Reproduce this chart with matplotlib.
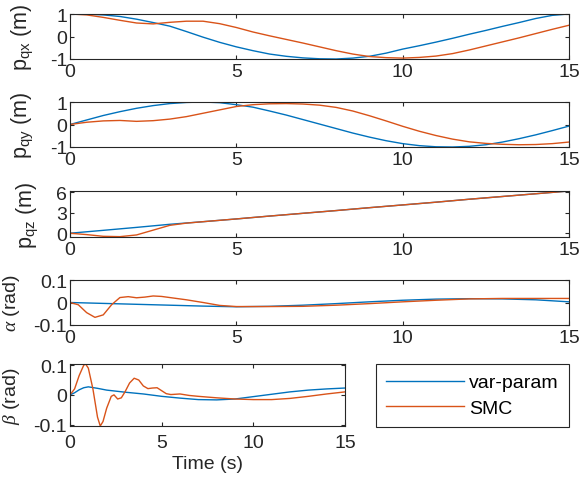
import matplotlib
matplotlib.use("Agg")
import matplotlib.pyplot as plt
from matplotlib.ticker import FuncFormatter

plt.rcParams['font.family'] = ['Liberation Sans', 'DejaVu Sans']
plt.rcParams['mathtext.fontset'] = 'custom'
plt.rcParams['mathtext.rm'] = 'Liberation Sans'
plt.rcParams['mathtext.it'] = 'Liberation Serif:italic'
plt.rcParams['mathtext.default'] = 'it'
plt.rcParams['axes.unicode_minus'] = False

BLUE = '#0072BD'
RED = '#D95319'
DARK = '#262626'

# ---------------- data ----------------
t_half = [0, 0.5, 1, 1.5, 2, 2.5, 3, 3.5, 4, 4.5, 5, 5.5, 6, 6.5, 7, 7.5,
          8, 8.5, 9, 9.5, 10, 10.5, 11, 11.5, 12, 12.5, 13, 13.5, 14, 14.5, 15]

pqx_vp = [1.0, 0.99, 0.96, 0.89, 0.77, 0.62, 0.46, 0.22, -0.03, -0.26, -0.46,
          -0.63, -0.78, -0.88, -0.95, -0.99, -1.0, -0.96, -0.88, -0.74, -0.56,
          -0.41, -0.25, -0.08, 0.1, 0.27, 0.45, 0.62, 0.8, 0.94, 1.0]
pqx_smc = [1.0, 0.96, 0.85, 0.72, 0.6, 0.56, 0.63, 0.68, 0.68, 0.57, 0.4,
           0.2, 0.03, -0.13, -0.29, -0.46, -0.63, -0.78, -0.89, -0.94, -0.96,
           -0.93, -0.87, -0.76, -0.6, -0.42, -0.24, -0.06, 0.13, 0.32, 0.5]

pqy_vp = [0.0, 0.2, 0.4, 0.57, 0.72, 0.84, 0.93, 0.98, 1.0, 0.97, 0.88,
          0.77, 0.6, 0.42, 0.22, 0.02, -0.18, -0.38, -0.56, -0.72, -0.85,
          -0.94, -0.99, -1.0, -0.97, -0.9, -0.78, -0.63, -0.46, -0.27, -0.07]
pqy_smc = [0.0, 0.1, 0.16, 0.18, 0.14, 0.17, 0.24, 0.35, 0.5, 0.65, 0.8,
           0.88, 0.92, 0.93, 0.91, 0.86, 0.76, 0.6, 0.39, 0.16, -0.08,
           -0.3, -0.49, -0.65, -0.77, -0.84, -0.88, -0.9, -0.89, -0.85, -0.78]

t_z_vp = [0, 1, 2, 3, 4, 5, 6, 7, 8, 9, 10, 11, 12, 13, 14, 15]
pqz_vp = [0.0, 0.42, 0.85, 1.3, 1.68, 2.08, 2.5, 2.9, 3.3, 3.72, 4.12,
          4.52, 4.95, 5.35, 5.75, 6.15]
t_z_smc = [0, 0.5, 1, 1.5, 2, 2.5, 3, 3.5, 4, 5, 6, 7, 8, 9, 10, 11, 12,
           13, 14, 15]
pqz_smc = [0.0, -0.2, -0.45, -0.5, -0.25, 0.45, 1.15, 1.47, 1.68, 2.08,
           2.5, 2.9, 3.3, 3.72, 4.12, 4.52, 4.95, 5.35, 5.75, 6.15]

t_a_vp = [0, 1, 2, 3, 4, 5, 6, 7, 8, 9, 10, 11, 12, 13, 14, 15]
alpha_vp = [0.0, -0.004, -0.008, -0.012, -0.016, -0.019, -0.017, -0.012,
            -0.005, 0.003, 0.01, 0.015, 0.017, 0.016, 0.012, 0.003]
t_a_smc = [0, 0.25, 0.5, 0.75, 1.0, 1.25, 1.5, 1.75, 2.0, 2.25, 2.5, 2.75,
           3, 3.5, 4, 4.5, 5, 6, 7, 8, 9, 10, 11, 12, 13, 14, 15]
alpha_smc = [0.0, -0.01, -0.045, -0.066, -0.055, -0.01, 0.022, 0.026, 0.021,
             0.024, 0.029, 0.027, 0.022, 0.012, 0.0, -0.013, -0.018, -0.018,
             -0.017, -0.012, -0.005, 0.003, 0.01, 0.016, 0.018, 0.018, 0.018]

t_b_vp = [0, 0.25, 0.5, 0.75, 1.0, 1.5, 2, 3, 4, 5, 6, 7, 8, 9, 10, 11, 12,
          13, 14, 15]
beta_vp = [0.0, 0.007, 0.017, 0.024, 0.027, 0.022, 0.016, 0.009, 0.003,
           -0.005, -0.011, -0.016, -0.017, -0.014, -0.006, 0.002, 0.01,
           0.016, 0.02, 0.023]
t_b_smc = [0, 0.25, 0.5, 0.75, 0.85, 1.0, 1.25, 1.5, 1.65, 1.8, 2.0, 2.25,
           2.4, 2.6, 2.8, 3.0, 3.25, 3.5, 3.75, 4.0, 4.25, 4.5, 4.75, 5.0,
           5.25, 5.5, 6.0, 6.5, 7, 8, 9, 10, 11, 12, 13, 14, 15]
beta_smc = [0.0, 0.02, 0.065, 0.1, 0.104, 0.09, 0.02, -0.075, -0.105, -0.09,
            -0.045, -0.005, 0.0, -0.014, -0.01, 0.01, 0.04, 0.056, 0.05, 0.03,
            0.021, 0.023, 0.024, 0.014, 0.004, 0.001, 0.003, -0.002, -0.005,
            -0.01, -0.014, -0.016, -0.016, -0.012, -0.005, 0.003, 0.01]

series_names = ['var-param', 'SMC']
xticks = [0, 5, 10, 15]

# ---------------- figure ----------------
W, H = 582, 481
FS = 14
fig = plt.figure(figsize=(W / 100, H / 100), dpi=100)


def make_ax(x0, y_top, x1, y_bot):
    return fig.add_axes([x0 / W, 1 - y_bot / H, (x1 - x0) / W, (y_bot - y_top) / H])


def style(ax, ylim, yticks, ylabel, label_right_px, lfs=FS, xpad=3):
    ax.set_xlim(0, 15)
    ax.set_ylim(*ylim)
    ax.set_xticks(xticks)
    ax.set_yticks(yticks)
    ax.yaxis.set_major_formatter(FuncFormatter(lambda v, p: '%g' % v))
    ax.tick_params(direction='in', length=3, width=0.8, colors=DARK,
                   labelsize=FS, top=True, right=True)
    ax.tick_params(axis='x', pad=xpad)
    ax.tick_params(axis='y', pad=2)
    for s in ax.spines.values():
        s.set_color(DARK)
        s.set_linewidth(0.8)
    ax.set_ylabel(ylabel, fontsize=lfs, color=DARK)
    x0 = ax.get_position().x0 * W
    wpx = ax.get_position().width * W
    ax.yaxis.set_label_coords((label_right_px - x0) / wpx, 0.5)


ax1 = make_ax(70, 15, 569, 60)
ax1.plot(t_half, pqx_vp, color=BLUE, lw=1.0)
ax1.plot(t_half, pqx_smc, color=RED, lw=1.0)
style(ax1, (-1, 1), [-1, 0, 1], r'p$_{\rm qx}$ (m)', 35, lfs=15.5)

ax2 = make_ax(70, 103, 569, 148)
ax2.plot(t_half, pqy_vp, color=BLUE, lw=1.0)
ax2.plot(t_half, pqy_smc, color=RED, lw=1.0)
style(ax2, (-1, 1), [-1, 0, 1], r'p$_{\rm qy}$ (m)', 35, lfs=15.5)

ax3 = make_ax(70, 192, 569, 238)
ax3.plot(t_z_vp, pqz_vp, color=BLUE, lw=1.0)
ax3.plot(t_z_smc, pqz_smc, color=RED, lw=1.0)
style(ax3, (-0.55, 6.15), [0, 3, 6], r'p$_{\rm qz}$ (m)', 40, lfs=15.5)

ax4 = make_ax(70, 281, 569, 326)
ax4.plot(t_a_vp, alpha_vp, color=BLUE, lw=1.0)
ax4.plot(t_a_smc, alpha_smc, color=RED, lw=1.0)
style(ax4, (-0.1, 0.1), [-0.1, 0, 0.1], r'$\alpha$ (rad)', 22)

ax5 = make_ax(70, 365, 345, 427)
l1, = ax5.plot(t_b_vp, beta_vp, color=BLUE, lw=1.0)
l2, = ax5.plot(t_b_smc, beta_smc, color=RED, lw=1.0)
style(ax5, (-0.105, 0.104), [-0.1, 0, 0.1], r'$\beta$ (rad)', 22, xpad=6)
ax5.set_xlabel('Time (s)', fontsize=FS, color=DARK, labelpad=3)

# legend
lx0, ly_top, lx1, ly_bot = 376, 365, 569, 427
leg = fig.legend([l1, l2], series_names, loc='upper left',
                 bbox_to_anchor=(lx0 / W, 1 - ly_bot / H, (lx1 - lx0) / W, (ly_bot - ly_top) / H),
                 mode='expand', borderaxespad=0, fontsize=FS,
                 handlelength=4.0, handletextpad=0.3, labelspacing=0.42,
                 borderpad=0.5, fancybox=False, framealpha=1,
                 edgecolor=DARK)
leg.get_frame().set_linewidth(0.8)
for txt in leg.get_texts():
    txt.set_color('black')

fig.savefig('out.png', dpi=100)
